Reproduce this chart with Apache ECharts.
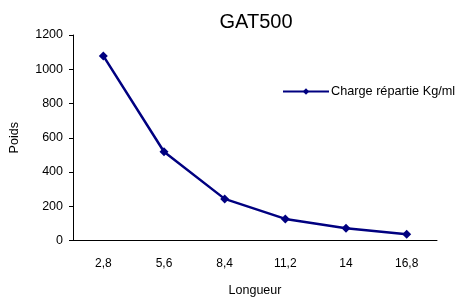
<!DOCTYPE html>
<html>
<head>
<meta charset="utf-8">
<script src="https://cdn.jsdelivr.net/npm/echarts@6/dist/echarts.min.js"></script>
<style>
  html, body { margin: 0; padding: 0; background: #fff; }
  #chart { width: 457px; height: 302px; }
</style>
</head>
<body>
<div id="chart"></div>
<script>
// données
const longueurs = ['2,8', '5,6', '8,4', '11,2', '14', '16,8'];
const charges = [1078, 518, 243, 126, 71, 36];
const yTicks = [0, 200, 400, 600, 800, 1000, 1200];

const font = 'Arial, "Liberation Sans", sans-serif';
const chart = echarts.init(document.getElementById('chart'));

const option = {
  animation: false,
  title: {
    text: 'GAT500',
    left: 251,
    top: 7,
    textAlign: 'center',
    textStyle: { fontFamily: font, fontSize: 20, fontWeight: 'normal', color: '#000' }
  },
  legend: {
    data: ['Charge répartie Kg/ml'],
    left: 282,
    top: 85,
    padding: 0,
    itemWidth: 46,
    itemHeight: 8,
    textStyle: { fontFamily: font, fontSize: 12.7, color: '#000', padding: [0, 0, 0, -3] }
  },
  grid: { left: 73, right: 20, top: 35, bottom: 61.5, containLabel: false, outerBoundsMode: 'none' },
  xAxis: {
    type: 'category',
    data: longueurs,
    name: 'Longueur',
    nameLocation: 'middle',
    nameGap: 44,
    nameTextStyle: { fontFamily: font, fontSize: 12.5, color: '#000' },
    axisLine: { lineStyle: { color: '#000', width: 1 } },
    axisTick: { length: 4, lineStyle: { color: '#000' } },
    axisLabel: { margin: 17, fontFamily: font, fontSize: 12, color: '#000' }
  },
  yAxis: {
    type: 'value',
    min: yTicks[0],
    max: yTicks[yTicks.length - 1],
    interval: 200,
    name: 'Poids',
    nameLocation: 'middle',
    nameGap: 52,
    nameTextStyle: { fontFamily: font, fontSize: 12.5, color: '#000' },
    axisLine: { show: true, lineStyle: { color: '#000', width: 1 } },
    axisTick: { show: true, length: 4, lineStyle: { color: '#000' } },
    splitLine: { show: false },
    axisLabel: {
      margin: 10, fontFamily: font, fontSize: 12.5, color: '#000',
      formatter: v => String(v)
    }
  },
  series: [{
    name: 'Charge répartie Kg/ml',
    type: 'line',
    data: charges,
    symbol: 'diamond',
    symbolSize: 9,
    lineStyle: { color: '#000080', width: 2.5 },
    itemStyle: { color: '#000080' }
  }]
};

chart.setOption(option);
</script>
</body>
</html>
